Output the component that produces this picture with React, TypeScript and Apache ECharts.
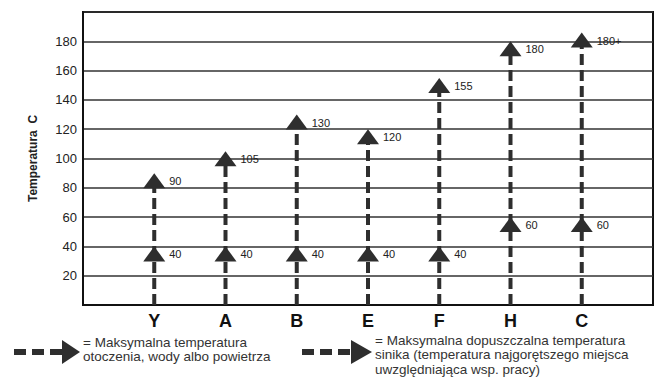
import React, { useEffect, useRef } from "react";
import * as echarts from "echarts";

const categories = ["Y", "A", "B", "E", "F", "H", "C"];
const lowValues = [40, 40, 40, 40, 40, 60, 60];
const highValues = [90, 105, 130, 120, 155, 180, 186];
const lowLabels = ["40", "40", "40", "40", "40", "60", "60"];
const highLabels = ["90", "105", "130", "120", "155", "180", "180+"];
const yTicks = [20, 40, 60, 80, 100, 120, 140, 160, 180];
const yAxisTitle = "Temperatura  C";
const legendLeft = ["= Maksymalna temperatura", "otoczenia, wody albo powietrza"];
const legendRight = [
  "= Maksymalna dopuszczalna temperatura",
  "sinika (temperatura najgorętszego miejsca",
  "uwzględniająca wsp. pracy)",
];

const DARK = "#2e2e2e";
const FONT = "Liberation Sans, Arial, sans-serif";

export default function App() {
  const ref = useRef<HTMLDivElement>(null);
  useEffect(() => {
    document.body.style.margin = "0";
    const chart = echarts.init(ref.current!, null, { renderer: "svg" });
    const data = categories.map((_, i) => [i + 1, lowValues[i], highValues[i]]);

    const legendArrow = (x0: number, x1: number, tipX: number, y: number) => [
      {
        type: "line",
        shape: { x1: x0, y1: y, x2: x1, y2: y },
        style: { stroke: DARK, lineWidth: 6, lineDash: [12, 6] },
      },
      {
        type: "polygon",
        shape: { points: [[x1, y - 12], [tipX, y], [x1, y + 12]] },
        style: { fill: DARK },
      },
    ];

    const legendText = (left: number, top: number, lines: string[]) =>
      lines.map((t, k) => ({
        type: "text",
        left,
        top: top + k * 14.5,
        style: { text: t, fontSize: 13.5, fontFamily: FONT, fill: "#333" },
      }));

    chart.setOption({
      animation: false,
      backgroundColor: "#ffffff",
      grid: {
        left: 83,
        top: 12,
        width: 576,
        height: 293,
        show: true,
        borderColor: "#111",
        borderWidth: 2,
      },
      xAxis: {
        type: "value",
        min: 0,
        max: 8,
        interval: 1,
        axisLine: { show: true, lineStyle: { color: "#111", width: 2 } },
        axisTick: { show: false },
        splitLine: { show: false },
        axisLabel: {
          margin: 7,
          fontSize: 18,
          fontWeight: "bold",
          fontFamily: FONT,
          color: "#111",
          formatter: (v: number) => (v >= 1 && v <= categories.length ? categories[v - 1] : ""),
        },
      },
      yAxis: {
        type: "value",
        min: 0,
        max: 200,
        interval: 20,
        name: yAxisTitle,
        nameLocation: "middle",
        nameRotate: 90,
        nameGap: 44,
        nameTextStyle: { fontSize: 12, fontWeight: "bold", fontFamily: FONT, color: "#222" },
        axisLine: { show: true, lineStyle: { color: "#111", width: 2 } },
        axisTick: { show: false },
        splitLine: { show: true, lineStyle: { color: "#333", width: 1.6 } },
        axisLabel: {
          margin: 6,
          fontSize: 13,
          fontFamily: FONT,
          color: "#222",
          formatter: (v: number) => (yTicks.includes(v) ? String(v) : ""),
        },
      },
      series: [
        {
          type: "custom",
          data,
          clip: false,
          renderItem: (params: any, api: any) => {
            const i = params.dataIndex;
            const x = api.value(0);
            const lo = api.value(1);
            const hi = api.value(2);
            const pBase = api.coord([x, 0]);
            const pLo = api.coord([x, lo]);
            const pHi = api.coord([x, hi]);
            const hw = 11;
            const th = 15;
            const tri = (p: number[]) => ({
              type: "polygon",
              shape: { points: [[p[0], p[1]], [p[0] - hw, p[1] + th], [p[0] + hw, p[1] + th]] },
              style: { fill: DARK },
            });
            const lbl = (p: number[], t: string) => ({
              type: "text",
              x: p[0] + 15,
              y: p[1] + 8,
              style: {
                text: t,
                fontSize: 11,
                fontFamily: FONT,
                fill: "#222",
                verticalAlign: "middle",
                align: "left",
              },
            });
            return {
              type: "group",
              children: [
                {
                  type: "line",
                  shape: { x1: pBase[0], y1: pBase[1], x2: pHi[0], y2: pHi[1] + th - 2 },
                  style: { stroke: DARK, lineWidth: 4, lineDash: [11, 5] },
                },
                tri(pLo),
                tri(pHi),
                lbl(pLo, lowLabels[i]),
                lbl(pHi, highLabels[i]),
              ],
            };
          },
        },
      ],
      graphic: [
        ...legendArrow(14, 62, 80, 352),
        ...legendText(83, 335, legendLeft),
        ...legendArrow(302, 351, 372, 352),
        ...legendText(375, 333, legendRight),
      ],
    });
    return () => chart.dispose();
  }, []);
  return <div ref={ref} style={{ width: 656, height: 382 }} />;
}
